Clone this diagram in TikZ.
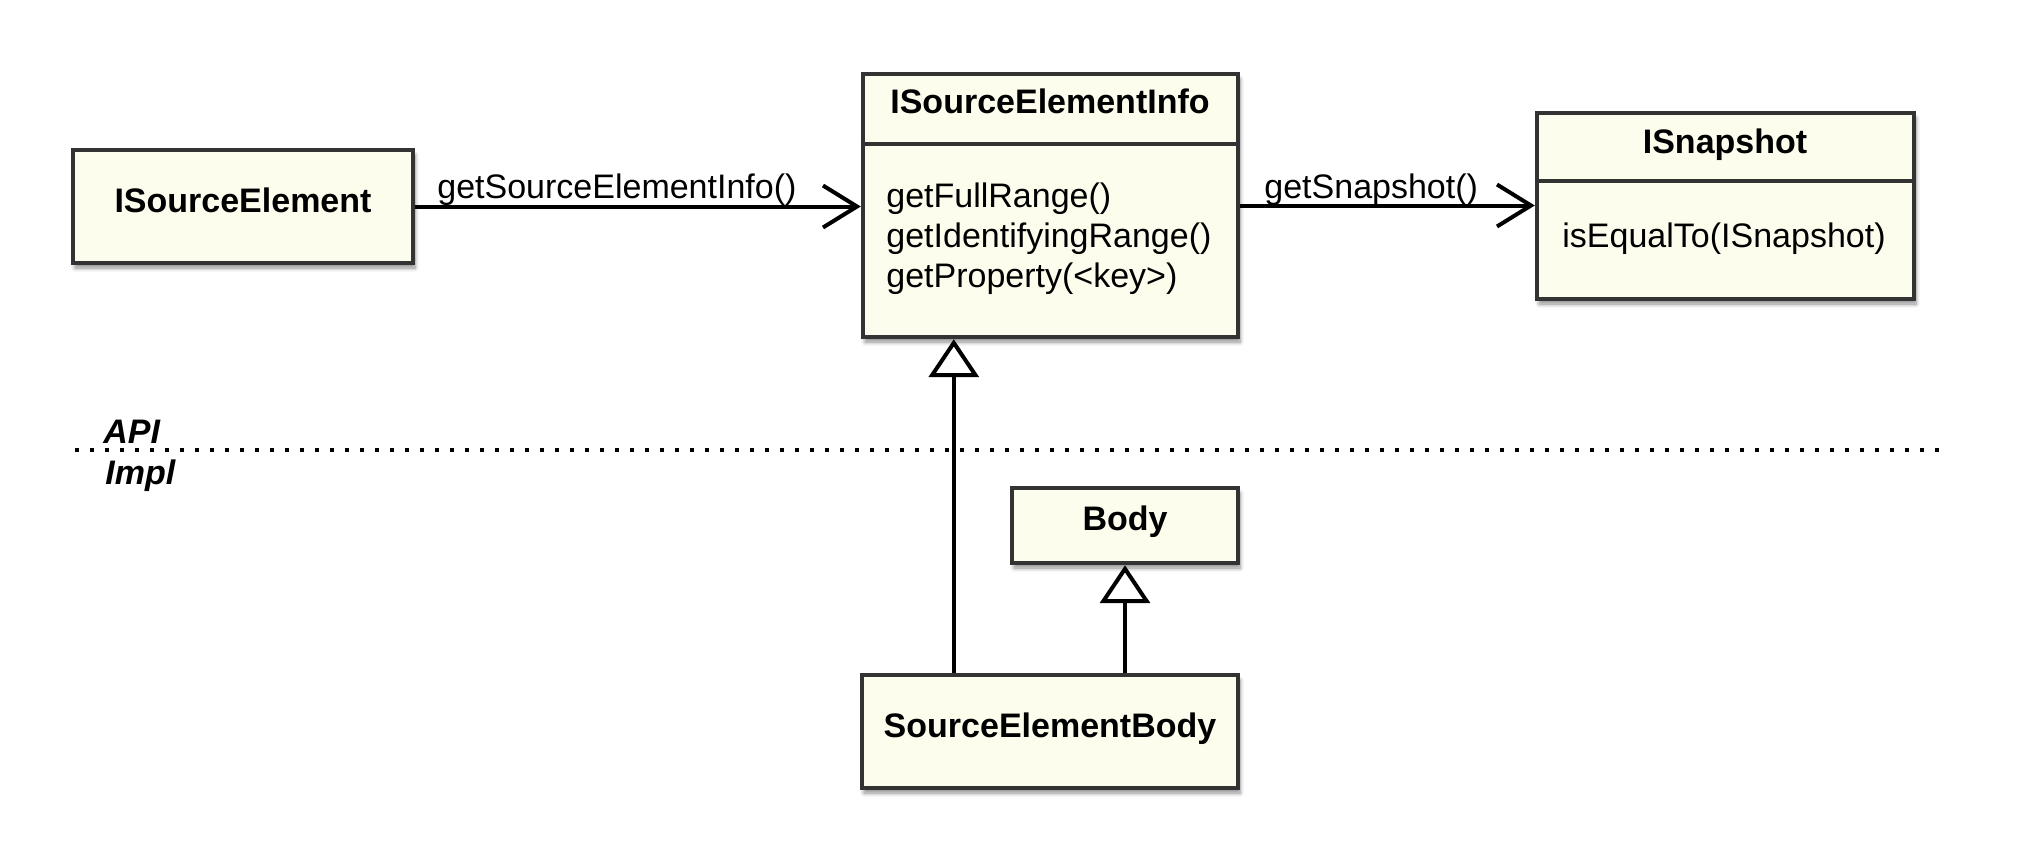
\documentclass[tikz,border=0pt]{standalone}
\usepackage{fontspec}
\setmainfont{Liberation Sans}
\usetikzlibrary{arrows.meta,shadows,shadows.blur,calc}
\definecolor{boxfill}{RGB}{253,253,238}
\definecolor{boxline}{RGB}{51,51,51}
\tikzset{
  umlbox/.style={draw=boxline, line width=2.2pt, fill=boxfill, inner sep=0pt,
    blur shadow={shadow xshift=1pt, shadow yshift=-2.5pt, shadow blur radius=2pt, shadow blur steps=6, shadow opacity=45}},
  divider/.style={draw=boxline, line width=2.2pt},
  title/.style={inner sep=0pt, anchor=base, font=\fontsize{17}{20}\selectfont\bfseries},
  method/.style={inner sep=0pt, anchor=base west, font=\fontsize{17}{20}\selectfont},
  msglabel/.style={inner sep=0pt, anchor=base west, font=\fontsize{17}{20}\selectfont},
  layerlabel/.style={inner sep=0pt, anchor=base west, font=\fontsize{17}{20}\selectfont\bfseries\itshape},
  assoc/.style={draw=black, line width=2pt, -{Straight Barb[length=17pt,width=21pt]}},
  inherit/.style={draw=black, line width=2pt, -{Triangle[length=19pt,width=25pt,fill=white]}},
  layerline/.style={draw=black, line width=2pt, dash pattern=on 2pt off 5.5pt},
}
\begin{document}
\begin{tikzpicture}[x=0.5pt,y=-0.5pt]
\useasboundingbox (0,0) rectangle (2019,863);
% boxes
\node[umlbox, minimum width=170pt, minimum height=56.5pt] (ise) at (243,206.5) {};
\node[umlbox, minimum width=187.5pt, minimum height=131.5pt] (info) at (1050.5,205.5) {};
\node[umlbox, minimum width=188.5pt, minimum height=93pt] (snap) at (1725.5,206) {};
\node[umlbox, minimum width=113pt, minimum height=37.5pt] (body) at (1125,525.5) {};
\node[umlbox, minimum width=188pt, minimum height=56.5pt] (seb) at (1050,731.5) {};
% dividers
\draw[divider] ([yshift=-36pt]info.north west) -- ([yshift=-36pt]info.north east);
\draw[divider] ([yshift=-35pt]snap.north west) -- ([yshift=-35pt]snap.north east);
% texts
\node[title] (iseT) at (243,212) {ISourceElement};
\node[title] (infoT) at (1050,113) {ISourceElementInfo};
\node[method] (m1) at (886,207) {getFullRange()};
\node[method] (m2) at (886,247) {getIdentifyingRange()};
\node[method] (m3) at (886,287) {getProperty(<key>)};
\node[title] (snapT) at (1725,153) {ISnapshot};
\node[method] (m4) at (1562,247) {isEqualTo(ISnapshot)};
\node[title] (bodyT) at (1125,530) {Body};
\node[title] (sebT) at (1050,737) {SourceElementBody};
% layer separator
\coordinate (dl) at (75,450);
\coordinate (dr) at (1947,450);
\draw[layerline] (dl) -- (dr);
\node[layerlabel] (api) at (103,443) {API};
\node[layerlabel] (impl) at (105,484) {Impl};
% connectors
\draw[assoc] (ise.east) -- (ise.east -| info.west);
\node[msglabel] (l1) at (437,198) {getSourceElementInfo()};
\draw[assoc] (info.east) -- (info.east -| snap.west);
\node[msglabel] (l2) at (1264,198) {getSnapshot()};
\draw[inherit] ([xshift=47pt]seb.north west) -- ([xshift=47pt]seb.north west |- info.south);
\draw[inherit] (seb.north -| body.south) -- (body.south);
\end{tikzpicture}
\end{document}
